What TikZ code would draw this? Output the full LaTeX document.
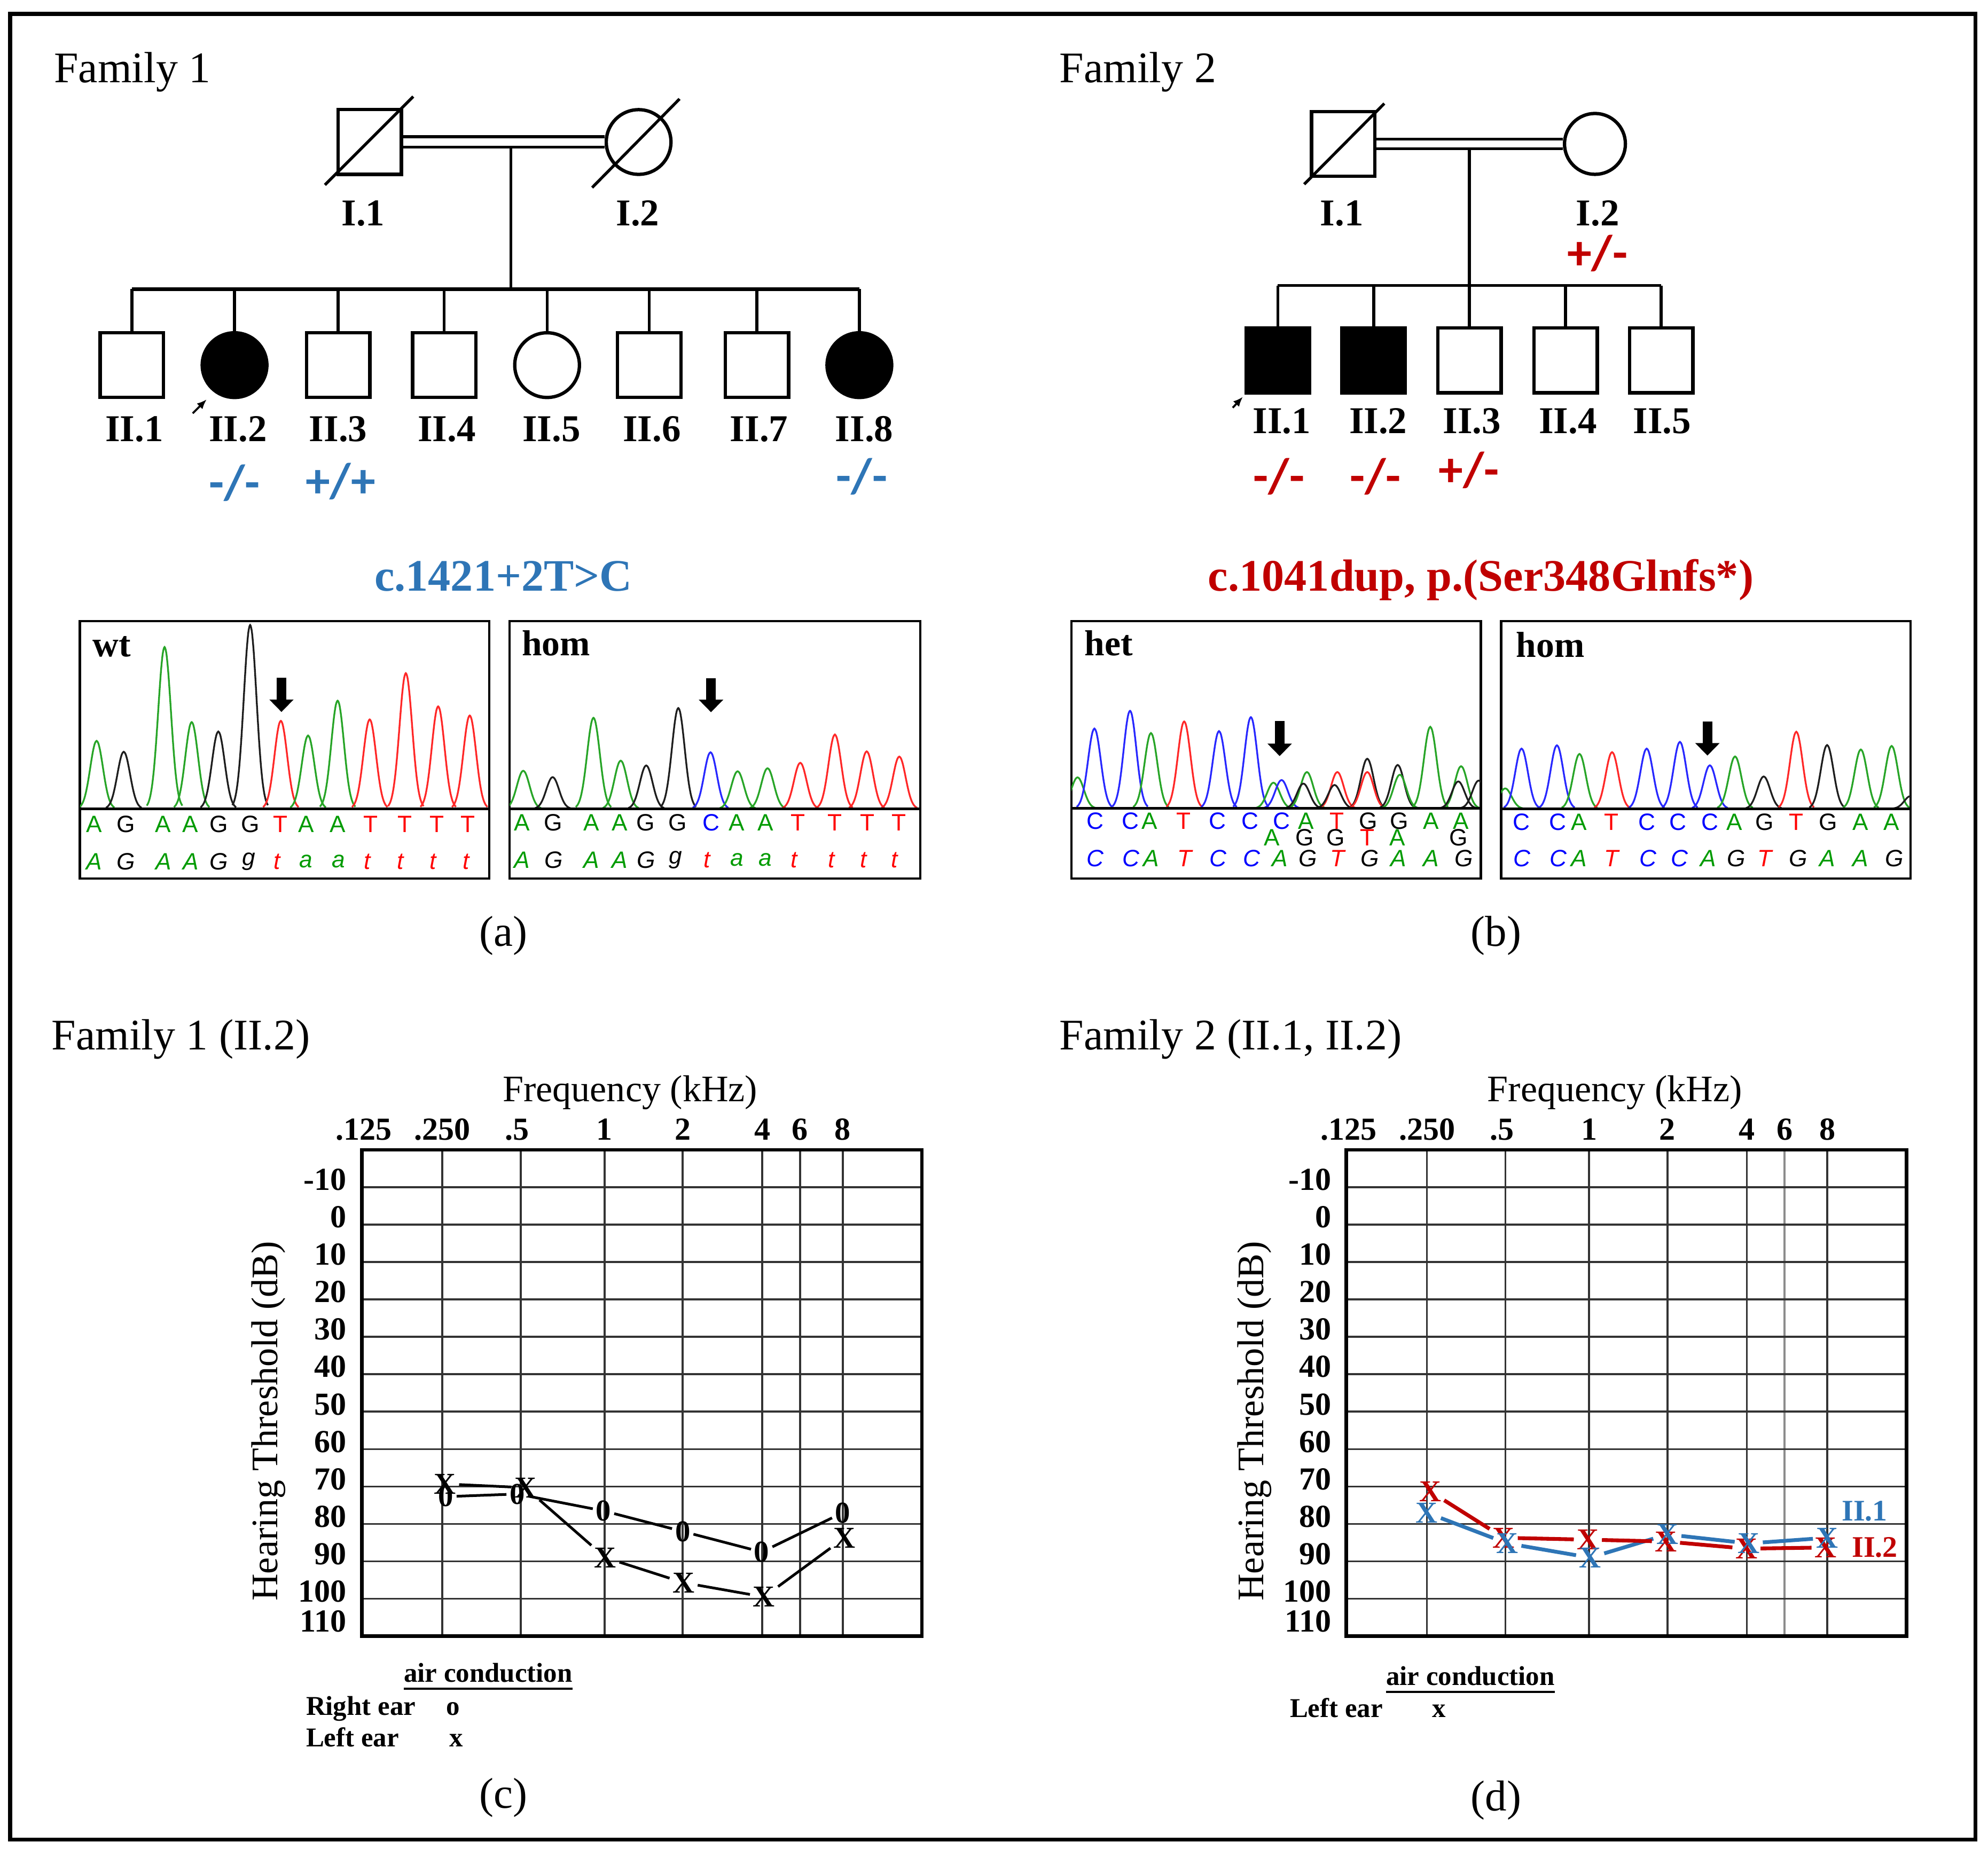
\documentclass[tikz,border=0pt]{standalone}
\usepackage{fontspec}
\setmainfont{Liberation Serif}
\newfontfamily\seqfont{Liberation Sans}
\newfontfamily\genofont{Carlito}
\usetikzlibrary{arrows.meta}
\definecolor{famblue}{RGB}{46,117,182}
\definecolor{famred}{RGB}{192,0,0}
\definecolor{pkA}{RGB}{40,165,40}
\definecolor{pkC}{RGB}{40,40,255}
\definecolor{pkG}{RGB}{30,30,30}
\definecolor{pkT}{RGB}{255,40,40}
\definecolor{seqA}{RGB}{0,155,0}
\definecolor{seqC}{RGB}{0,0,255}
\definecolor{seqG}{RGB}{0,0,0}
\definecolor{seqT}{RGB}{255,0,0}
\colorlet{seqa}{seqA}
\colorlet{seqg}{seqG}
\colorlet{seqt}{seqT}

\begin{document}
\begin{tikzpicture}[x=0.01cm,y=-0.01cm,
  male/.style={draw,line width=0.75pt,minimum width=0.5cm,minimum height=0.51cm,inner sep=0pt},
  female/.style={draw,circle,line width=0.75pt,minimum size=0.51cm,inner sep=0pt},
  sick/.style={fill=black},
  pedline/.style={line width=0.65pt},
  famtitle/.style={font=\fontsize{9.8}{11}\selectfont,inner sep=0pt},
  idlab/.style={font=\fontsize{8.5}{10}\selectfont\bfseries},
  geno/.style={font=\genofont\fontsize{11}{12}\selectfont\bfseries},
  varlab/.style={font=\fontsize{10.1}{12}\selectfont\bfseries},
  boxlab/.style={font=\fontsize{8.1}{9}\selectfont\bfseries,inner sep=0pt},
  chromframe/.style={line width=0.5pt},
  peak/.style={line width=0.4pt,samples=21,smooth},
  zeroline/.style={line width=0.6pt},
  seqlet/.style={font=\seqfont\fontsize{5.3}{6}\selectfont,inner sep=0pt},
  seqit/.style={font=\seqfont\itshape\fontsize{5.3}{6}\selectfont,inner sep=0pt},
  mutarrow/.style={line width=2.2pt,-{Triangle[width=5.3pt,length=2.8pt]}},
  panellab/.style={font=\fontsize{9.7}{11}\selectfont},
  axtitle/.style={font=\fontsize{8.4}{10}\selectfont},
  ticklab/.style={font=\fontsize{7.2}{8}\selectfont\bfseries,inner sep=0pt},
  gridline/.style={line width=0.45pt,black!80},
  gridframe/.style={line width=0.8pt},
  mk/.style={font=\fontsize{6.8}{7}\selectfont\bfseries,inner sep=0.5pt},
  legtext/.style={font=\fontsize{6.1}{7}\selectfont\bfseries,inner sep=0pt},
  audline/.style={line width=0.6pt}
]
\useasboundingbox (0,0) rectangle (1568,1459);
\draw[line width=0.9pt] (8,11) rectangle (1558,1451);

% Family 1 pedigree
\node[famtitle,anchor=base west] (f1title) at (42,65) {Family 1};
\node[male] (f1i1) at (291.6,112) {};
\node[female] (f1i2) at (503.7,112) {};
\draw[pedline,double,double distance=0.06cm] (f1i1) -- (f1i2);
\draw[pedline] ([shift={(-9,7)}]f1i1.south west) -- ([shift={(8,-9)}]f1i1.north east);
\draw[pedline] ([shift={(-17.7,17)}]f1i2.south west) -- ([shift={(13.3,-15)}]f1i2.north east);
\node[idlab,anchor=base] (f1l1) at (286.5,178) {I.1};
\node[idlab,anchor=base] (f1l2) at (503,178) {I.2};
\coordinate (f1drop) at (403,115.5);
\coordinate (f1sib) at (403,228);
\coordinate (f1sibl) at (104,228);
\coordinate (f1sibr) at (677.8,228);
\draw[pedline] (f1drop) -- (f1sib);
\draw[line width=0.8pt] (f1sibl) -- (f1sibr);
\node[male] (f1ii1) at (104,288) {};
\node[female,sick] (f1ii2) at (185,288) {};
\node[male] (f1ii3) at (266.7,288) {};
\node[male] (f1ii4) at (350.4,288) {};
\node[female] (f1ii5) at (431.5,288) {};
\node[male] (f1ii6) at (512,288) {};
\node[male] (f1ii7) at (597,288) {};
\node[female,sick] (f1ii8) at (677.8,288) {};
\foreach \k in {1,...,8}
  \draw[pedline] (f1ii\k) -- (f1ii\k |- f1sib);
\node[idlab,anchor=base] (f1lii1) at (106,348) {II.1};
\node[idlab,anchor=base] (f1lii2) at (187.6,348) {II.2};
\node[idlab,anchor=base] (f1lii3) at (266.7,348) {II.3};
\node[idlab,anchor=base] (f1lii4) at (352.4,348) {II.4};
\node[idlab,anchor=base] (f1lii5) at (435,348) {II.5};
\node[idlab,anchor=base] (f1lii6) at (514.2,348) {II.6};
\node[idlab,anchor=base] (f1lii7) at (598.7,348) {II.7};
\node[idlab,anchor=base] (f1lii8) at (681.7,348) {II.8};
\draw[-{Latex[length=2.2pt,width=1.8pt]},line width=0.45pt] ([shift={(-33,38)}]f1ii2.center) -- ([shift={(-22,27)}]f1ii2.center);
\node[geno,text=famblue] (f1g2) at (185,381) {-/-};
\node[geno,text=famblue] (f1g3) at (268.6,379.6) {+/+};
\node[geno,text=famblue] (f1g8) at (679.8,376) {-/-};

% Family 2 pedigree
\node[famtitle,anchor=base west] (f2title) at (835,65) {Family 2};
\node[male] (f2i1) at (1059.5,113.5) {};
\node[female,minimum size=0.48cm] (f2i2) at (1258,113.5) {};
\draw[pedline,double,double distance=0.055cm] (f2i1) -- (f2i2);
\draw[pedline] ([shift={(-4.5,5)}]f2i1.south west) -- ([shift={(6,-5)}]f2i1.north east);
\node[idlab,anchor=base] (f2l1) at (1058.3,178) {I.1};
\node[idlab,anchor=base] (f2l2) at (1260.2,178) {I.2};
\node[geno,text=famred] (f2g0) at (1260,199.8) {+/-};
\coordinate (f2drop) at (1159,116.5);
\coordinate (f2sib) at (1159,225.2);
\coordinate (f2sibl) at (1007.9,225.2);
\coordinate (f2sibr) at (1310.2,225.2);
\draw[pedline] (f2drop) -- (f2sib);
\draw[pedline] (f2sibl) -- (f2sibr);
\node[male,sick] (f2ii1) at (1007.9,284.3) {};
\node[male,sick] (f2ii2) at (1083.5,284.3) {};
\node[male] (f2ii3) at (1159,284.3) {};
\node[male] (f2ii4) at (1234.8,284.3) {};
\node[male] (f2ii5) at (1310.2,284.3) {};
\foreach \k in {1,...,5}
  \draw[pedline] (f2ii\k) -- (f2ii\k |- f2sib);
\node[idlab,anchor=base] (f2lii1) at (1011,342) {II.1};
\node[idlab,anchor=base] (f2lii2) at (1087,342) {II.2};
\node[idlab,anchor=base] (f2lii3) at (1161,342) {II.3};
\node[idlab,anchor=base] (f2lii4) at (1236.7,342) {II.4};
\node[idlab,anchor=base] (f2lii5) at (1311,342) {II.5};
\draw[-{Latex[length=2.2pt,width=1.8pt]},line width=0.45pt] ([shift={(-35.6,37.3)}]f2ii1.center) -- ([shift={(-27.6,28.7)}]f2ii1.center);
\node[geno,text=famred] (f2g1) at (1008.7,376) {-/-};
\node[geno,text=famred] (f2g2) at (1084.9,376) {-/-};
\node[geno,text=famred] (f2g3) at (1158.6,371) {+/-};

% variants
\node[varlab,text=famblue,anchor=base] (var1) at (397,466) {c.1421+2T>C};
\node[varlab,text=famred,anchor=base] (var2) at (1168,466) {c.1041dup, p.(Ser348Glnfs*)};

% chromatogram wt
\begin{scope}[shift={(63,638)},y=0.01cm]
  \draw[chromframe] (0,-55) rectangle (323,148);
  \node[boxlab,anchor=base west] (wtlab) at (9.5,120) {wt};
  \begin{scope}
    \clip (0,-55) rectangle (323,148);
    \foreach \pkx/\pkh/\pkl in {13.2/53.6/A,34.6/45/G,66.8/127.6/A,88.2/68.4/A,109.2/61/G,134.3/145/G,158.5/69.4/T,180/57.8/A,203.3/85.3/A,228.6/70.5/T,257.1/107/T,282.6/80.8/T,307.5/73.6/T}
      \draw[peak,color=pk\pkl] plot[domain=\pkx-14:\pkx+14] (\x,{\pkh*exp(-((\x-\pkx)*(\x-\pkx))/50)});
  \end{scope}
  \draw[zeroline] (0,0) -- (323,0);
  \foreach \lx/\lt [count=\i] in {11.4/A,36.3/G,65.7/A,87.1/A,109.6/G,134.3/G,158.3/T,178.7/A,203.5/A,229.3/T,256.5/T,281.8/T,306.2/T}
    \node[seqlet,text=seq\lt] (wtu\i) at (\lx,-12) {\lt};
  \foreach \lx/\lt [count=\i] in {11.2/A,36.5/G,66.1/A,87.6/A,109.5/G,133.1/g,155.6/t,178.5/a,203.8/a,226.5/t,252.9/t,278.7/t,304.7/t}
    \node[seqit,text=seq\lt] (wtl\i) at (\lx,-41.6) {\lt};
  \draw[mutarrow] (159,103.6) -- (159,76.4);
\end{scope}

% chromatogram hom, family 1
\begin{scope}[shift={(402,638)},y=0.01cm]
  \draw[chromframe] (0,-55) rectangle (324,148);
  \node[boxlab,anchor=base west] (halab) at (9,121) {hom};
  \begin{scope}
    \clip (0,-55) rectangle (324,148);
    \foreach \pkx/\pkh/\pkl in {10.7/30/A,33.9/25/G,66.1/71.8/A,87.6/38/A,107.7/34.2/G,133/79.5/G,158.4/44.6/C,179.8/29.6/A,203.4/32/A,229.2/36.3/T,256.5/58.6/T,281.6/45.3/T,307.3/41.2/T}
      \draw[peak,color=pk\pkl] plot[domain=\pkx-14:\pkx+14] (\x,{\pkh*exp(-((\x-\pkx)*(\x-\pkx))/50)});
  \end{scope}
  \draw[zeroline] (0,0) -- (324,0);
  \foreach \lx/\lt [count=\i] in {9.7/A,34.3/G,64.4/A,86.9/A,107.3/G,132.6/G,158.8/C,179.2/A,201.7/A,227.5/T,256.5/T,282.2/T,306.9/T}
    \node[seqlet,text=seq\lt] (hau\i) at (\lx,-11) {\lt};
  \foreach \lx/\lt [count=\i] in {9.7/A,34.8/G,64.4/A,86.9/A,107.7/G,130.9/g,155.6/t,179.2/a,201.7/a,224.3/t,253.7/t,279/t,303.7/t}
    \node[seqit,text=seq\lt] (hal\i) at (\lx,-40.3) {\lt};
  \draw[mutarrow] (158.8,103) -- (158.8,76.2);
\end{scope}

% chromatogram het, family 2
\begin{scope}[shift={(845,637.7)},y=0.01cm]
  \draw[chromframe] (0,-55.3) rectangle (323,147.7);
  \node[boxlab,anchor=base west] (hetlab) at (9.9,120.4) {het};
  \begin{scope}
    \clip (0,-55.3) rectangle (323,147.7);
    \foreach \pkx/\pkh/\pkl in {4.9/24.5/A,18.2/63/C,46.3/77/C,62.8/59.5/A,89/68.6/T,116.5/61/C,141.6/72/C,159.4/20.3/A,165.8/22.4/C,185.8/28.7/A,183/19.6/G,209.8/28.7/T,207.6/18.5/G,233.4/39.2/G,233.4/28.7/T,257.4/34.3/G,259.1/26.6/A,283.1/64.4/A,307.4/33.3/A,305.2/21.3/G,321.3/22/G}
      \draw[peak,color=pk\pkl] plot[domain=\pkx-14:\pkx+14] (\x,{\pkh*exp(-((\x-\pkx)*(\x-\pkx))/50)});
  \end{scope}
  \draw[zeroline] (0,0) -- (323,0);
  \foreach \lx/\lt [count=\i] in {18.9/C,46.8/C,61.8/A,88.6/T,115.4/C,141.1/C,165.8/C,185.1/A,209.4/T,234.4/G,258.7/G,283.8/A,307.4/A}
    \node[seqlet,text=seq\lt] (hetu\i) at (\lx,-9.8) {\lt};
  \foreach \lx/\lt [count=\i] in {158.3/A,184.1/G,208.7/G,233.4/T,257/A,305.2/G}
    \node[seqlet,text=seq\lt] (hetm\i) at (\lx,-23.1) {\lt};
  \foreach \lx/\lt [count=\i] in {18.9/C,47.2/C,62.9/A,89.2/T,115.8/C,142.2/C,164.7/A,186.6/G,209.8/T,235.5/G,258/A,283.8/A,309.5/G}
    \node[seqit,text=seq\lt] (hetl\i) at (\lx,-39.3) {\lt};
  \draw[mutarrow] (164.3,69) -- (164.3,41.3);
\end{scope}

% chromatogram hom, family 2
\begin{scope}[shift={(1184,637.9)},y=0.01cm]
  \draw[chromframe] (0,-55.1) rectangle (323,147.9);
  \node[boxlab,anchor=base west] (hblab) at (11.2,119.7) {hom};
  \begin{scope}
    \clip (0,-55.1) rectangle (323,147.9);
    \foreach \pkx/\pkh/\pkl in {3.2/16/A,16.1/47.4/C,44/50/C,61.8/43.2/A,87.5/44.6/T,114.8/47.4/C,141/52.7/C,164.6/34.2/C,184.5/41.2/A,207.1/25.4/G,232.8/60.7/T,257.1/50.2/G,283.7/46.7/A,308/49.5/A,323/10/G}
      \draw[peak,color=pk\pkl] plot[domain=\pkx-14:\pkx+14] (\x,{\pkh*exp(-((\x-\pkx)*(\x-\pkx))/50)});
  \end{scope}
  \draw[zeroline] (0,0) -- (323,0);
  \foreach \lx/\lt [count=\i] in {16.1/C,44.6/C,61.2/A,86.9/T,114.8/C,139.5/C,164.6/C,184.1/A,207.7/G,232.8/T,258/G,283.3/A,308/A}
    \node[seqlet,text=seq\lt] (hbu\i) at (\lx,-10.4) {\lt};
  \foreach \lx/\lt [count=\i] in {16.5/C,45.1/C,61.6/A,86.9/T,115.9/C,140.6/C,163.5/A,185.6/G,207.7/T,234.3/G,257.5/A,283.3/A,310.1/G}
    \node[seqit,text=seq\lt] (hbl\i) at (\lx,-39) {\lt};
  \draw[mutarrow] (162.7,68.8) -- (162.7,41.9);
\end{scope}

\node[panellab] (pa) at (397,738) {(a)};
\node[panellab] (pb) at (1180,738) {(b)};

% audiogram, family 1
\node[famtitle,anchor=base west] (f1aud) at (40,828) {Family 1 (II.2)};
\begin{scope}[shift={(0,966)},y=-0.0295cm]
  \foreach \gx in {348.8,410.8,476.8,538.5,601.2,631,664.7}
    \draw[gridline] (\gx,-20) -- (\gx,110);
  \foreach \gy in {-10,0,...,100}
    \draw[gridline] (285.3,\gy) -- (727.1,\gy);
  \draw[gridframe] (285.3,-20) rectangle (727.1,110);
  \node[axtitle,anchor=base] (cfreq) at (497,-32.9) {Frequency (kHz)};
  \foreach \tx/\tl [count=\i] in {287/.125,349/.250,408/.5,476.8/1,538.5/2,601.2/4,631/6,664.7/8}
    \node[ticklab,anchor=base] (cf\i) at (\tx,-22.7) {\tl};
  \foreach \yv [count=\i] in {-10,0,...,100}
    \node[ticklab,anchor=east] (cy\i) at (274,\yv-2) {\yv};
  \node[ticklab,anchor=east] (cy12) at (274,106) {110};
  \node[axtitle,rotate=90] (cytitle) at (212,52.5) {Hearing Threshold (dB)};
  % right ear
  \node[mk] (cR1) at (351.7,72.7) {0};
  \node[mk] (cR2) at (407.9,72) {0};
  \node[mk] (cR3) at (476,76.5) {0};
  \node[mk] (cR4) at (538.5,82) {0};
  \node[mk] (cR5) at (600.8,87.5) {0};
  \node[mk] (cR6) at (664.7,77) {0};
  % left ear
  \node[mk] (cL1) at (351,69.3) {X};
  \node[mk] (cL2) at (414.4,70.3) {X};
  \node[mk] (cL3) at (477.5,89) {X};
  \node[mk] (cL4) at (539.2,95.7) {X};
  \node[mk] (cL5) at (602.6,99.5) {X};
  \node[mk] (cL6) at (666.1,83.7) {X};
  \draw[audline] (cR1) -- (cR2) -- (cR3) -- (cR4) -- (cR5) -- (cR6);
  \draw[audline] (cL1) -- (cL2) -- (cL3) -- (cL4) -- (cL5) -- (cL6);
\end{scope}
\node[legtext,anchor=base] (cleg) at (385,1326.9) {\underline{air conduction}};
\node[legtext,anchor=base west] (cright) at (240.7,1352.9) {Right ear};
\node[legtext,anchor=base] (cro) at (357.2,1352.9) {o};
\node[legtext,anchor=base west] (cleft) at (240.7,1377.7) {Left ear};
\node[legtext,anchor=base] (clx) at (360,1377.7) {x};
\node[panellab] (pc) at (397,1418) {(c)};

% audiogram, family 2
\node[famtitle,anchor=base west] (f2aud) at (835,828) {Family 2 (II.1, II.2)};
\begin{scope}[shift={(776.6,966)},y=-0.0295cm]
  \foreach \gx in {348.8,410.8,476.8,538.5,601.2,664.7}
    \draw[gridline] (\gx,-20) -- (\gx,110);
  \draw[gridline,black!45] (631,-20) -- (631,110);
  \foreach \gy in {-10,0,...,100}
    \draw[gridline] (285.3,\gy) -- (727.1,\gy);
  \draw[gridframe] (285.3,-20) rectangle (727.1,110);
  \node[axtitle,anchor=base] (dfreq) at (497,-32.9) {Frequency (kHz)};
  \foreach \tx/\tl [count=\i] in {287/.125,349/.250,408/.5,476.8/1,538.5/2,601.2/4,631/6,664.7/8}
    \node[ticklab,anchor=base] (df\i) at (\tx,-22.7) {\tl};
  \foreach \yv [count=\i] in {-10,0,...,100}
    \node[ticklab,anchor=east] (dy\i) at (274,\yv-2) {\yv};
  \node[ticklab,anchor=east] (dy12) at (274,106) {110};
  \node[axtitle,rotate=90] (dytitle) at (213,52.5) {Hearing Threshold (dB)};
  % II.2
  \node[mk,text=famred] (dB1) at (351.4,71.3) {X};
  \node[mk,text=famred] (dB2) at (409.4,83.7) {X};
  \node[mk,text=famred] (dB3) at (475.8,84.2) {X};
  \node[mk,text=famred] (dB4) at (537.4,84.7) {X};
  \node[mk,text=famred] (dB5) at (600.9,86.6) {X};
  \node[mk,text=famred] (dB6) at (663.3,86.3) {X};
  % II.1
  \node[mk,text=famblue] (dA1) at (348.8,77) {X};
  \node[mk,text=famblue] (dA2) at (412.3,85.2) {X};
  \node[mk,text=famblue] (dA3) at (477.6,89) {X};
  \node[mk,text=famblue] (dA4) at (538.5,82.8) {X};
  \node[mk,text=famblue] (dA5) at (602.7,85.2) {X};
  \node[mk,text=famblue] (dA6) at (664.4,83.7) {X};
  \draw[audline,famblue,line width=0.85pt] (dA1) -- (dA2) -- (dA3) -- (dA4) -- (dA5) -- (dA6);
  \draw[audline,famred,line width=0.85pt] (dB1) -- (dB2) -- (dB3) -- (dB4) -- (dB5) -- (dB6);
  \node[idlab,font=\fontsize{6.7}{8}\selectfont\bfseries,text=famblue,anchor=west,inner sep=0pt] (dlab1) at (675.4,76.5) {II.1};
  \node[idlab,font=\fontsize{6.7}{8}\selectfont\bfseries,text=famred,anchor=west,inner sep=0pt] (dlab2) at (683.4,86.2) {II.2};
\end{scope}
\node[legtext,anchor=base] (dleg) at (1159.7,1329.4) {\underline{air conduction}};
\node[legtext,anchor=base west] (dleft) at (1016.7,1354.5) {Left ear};
\node[legtext,anchor=base] (dlx) at (1135,1354.5) {x};
\node[panellab] (pd) at (1180,1420) {(d)};
\end{tikzpicture}
\end{document}
